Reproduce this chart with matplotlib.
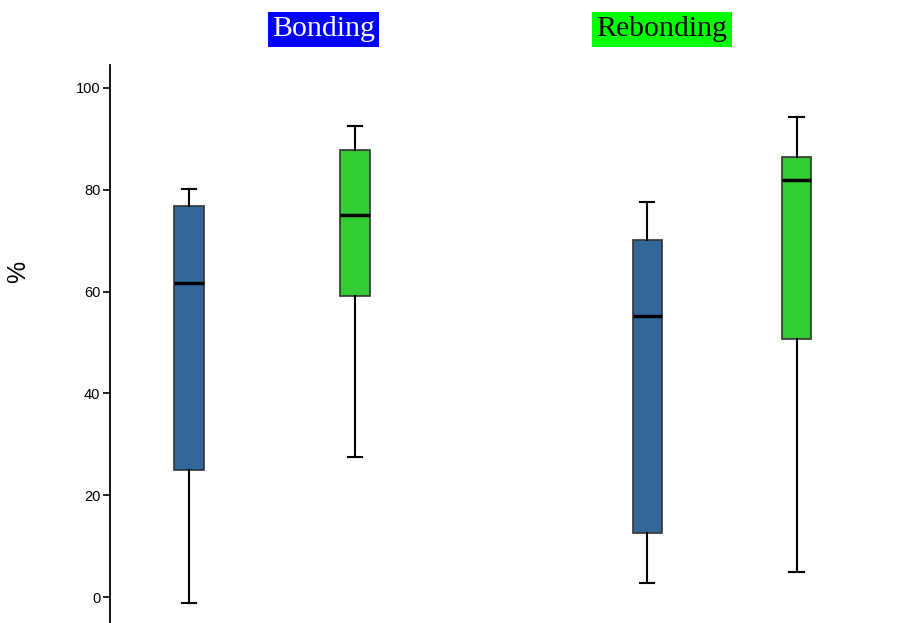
import matplotlib
matplotlib.use('Agg')
import matplotlib.pyplot as plt

# box statistics (%)
groups = ['Bonding', 'Bonding', 'Rebonding', 'Rebonding']
whisker_low = [-1.2, 27.5, 2.8, 4.9]
q1 = [25.0, 59.1, 12.6, 50.7]
median = [61.7, 75.0, 55.2, 81.9]
q3 = [76.8, 87.8, 70.1, 86.4]
whisker_high = [80.2, 92.5, 77.6, 94.3]
box_colors = ['#336699', '#33cc33', '#336699', '#33cc33']
positions = [1.0, 2.0, 3.76, 4.66]
y_ticks = [0, 20, 40, 60, 80, 100]

stats = []
for i in range(len(median)):
    stats.append({'whislo': whisker_low[i], 'q1': q1[i], 'med': median[i],
                  'q3': q3[i], 'whishi': whisker_high[i], 'fliers': []})

fig = plt.figure(figsize=(9.21, 6.23), dpi=100)
ax = fig.add_axes([110 / 921, 0.0, 811 / 921, 558 / 623])

bp = ax.bxp(stats, positions=positions, widths=0.175, patch_artist=True,
            showfliers=False,
            boxprops=dict(edgecolor='#333333', linewidth=1.2),
            medianprops=dict(color='black', linewidth=2.5),
            whiskerprops=dict(color='black', linewidth=1.5),
            capprops=dict(color='black', linewidth=1.5),
            capwidths=0.085)
for patch, color in zip(bp['boxes'], box_colors):
    patch.set_facecolor(color)

ax.set_xlim(0.524, 5.41)
ax.set_ylim(-5.1, 104.5)
ax.set_yticks(y_ticks)
ax.set_yticklabels([str(v) for v in y_ticks], fontfamily='Liberation Sans', fontsize=10.5)
ax.tick_params(axis='y', direction='out', length=5, width=1.2, pad=2)
ax.set_xticks([])
for side in ['top', 'right', 'bottom']:
    ax.spines[side].set_visible(False)
ax.spines['left'].set_linewidth(1.3)

fig.text(18 / 921, 1 - 272 / 623, '%', rotation=90, ha='center', va='center',
         fontfamily='Liberation Sans', fontsize=18)

fig.text(323.5 / 921, 1 - 29.5 / 623, 'Bonding', ha='center', va='center',
         fontfamily='Liberation Serif', fontsize=21.5, color='white',
         bbox=dict(facecolor='#0000ff', edgecolor='none', pad=3))
fig.text(662 / 921, 1 - 29.5 / 623, 'Rebonding', ha='center', va='center',
         fontfamily='Liberation Serif', fontsize=21.5, color='black',
         bbox=dict(facecolor='#00ff00', edgecolor='none', pad=3))

fig.savefig('out.png', dpi=100)
